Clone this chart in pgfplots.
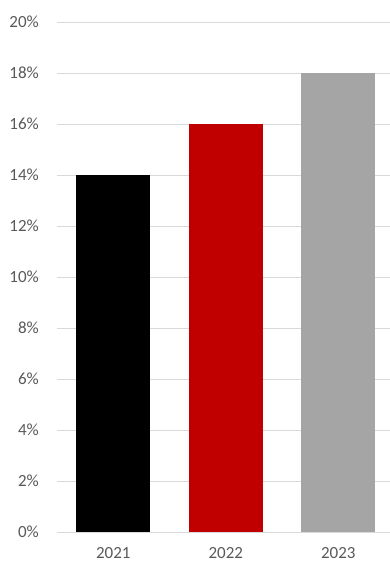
\documentclass[border=0pt]{standalone}
\usepackage{pgfplots}
\pgfplotsset{compat=1.18}
\usepackage{fontspec}
\setmainfont{Carlito}
\definecolor{txt}{HTML}{595959}
\definecolor{gridc}{HTML}{D9D9D9}
\definecolor{bred}{HTML}{C00000}
\definecolor{bgray}{HTML}{A5A5A5}
\begin{document}
\begin{tikzpicture}
\useasboundingbox (0,0) rectangle (390pt,562pt);
\begin{axis}[
  at={(57pt,30pt)}, anchor=south west,
  scale only axis, width=337.5pt, height=510pt,
  xmin=-0.5, xmax=2.5, ymin=0, ymax=20,
  xtick={0,1,2}, xticklabels={2021,2022,2023},
  ytick={0,2,...,20},
  yticklabel={\pgfmathprintnumber{\tick}\%},
  /pgf/number format/assume math mode=true,
  axis line style={draw=none},
  major tick length=0pt,
  ymajorgrids, grid style={gridc, line width=0.9pt},
  tick label style={font=\fontsize{17}{20}\selectfont, text=txt, inner sep=0pt},
  yticklabel style={anchor=east, xshift=-18pt},
  xticklabel style={anchor=north, yshift=-15pt},
  clip=false,
]
\addplot[ybar, bar width=74pt, fill=black, draw=none] coordinates {(0,14)};
\addplot[ybar, bar width=74pt, fill=bred, draw=none] coordinates {(1,16)};
\addplot[ybar, bar width=74pt, fill=bgray, draw=none] coordinates {(2,18)};
\end{axis}
\end{tikzpicture}
\end{document}
